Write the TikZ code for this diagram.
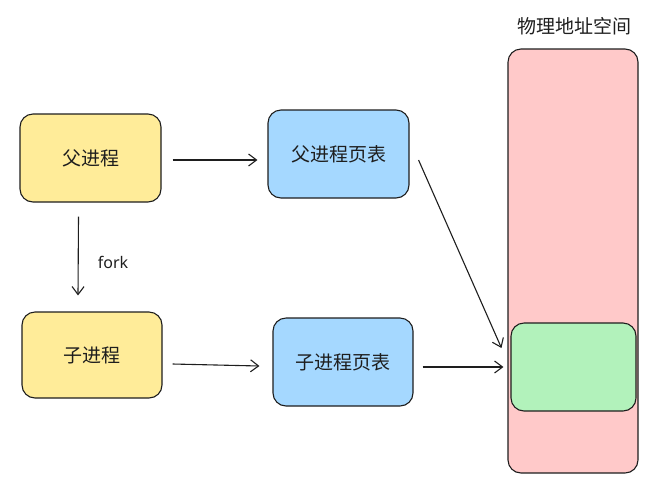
\documentclass[tikz,border=0pt]{standalone}
\usepackage{fontspec}
\setmainfont{Noto Sans CJK SC}
\newfontfamily\latinfont{Noto Sans}
\usetikzlibrary{arrows.meta,calc}
\definecolor{yel}{HTML}{FFEC99}
\definecolor{blu}{HTML}{A5D8FF}
\definecolor{pnk}{HTML}{FFC9C9}
\definecolor{grn}{HTML}{B2F2BB}
\definecolor{ink}{HTML}{1E1E1E}
\begin{document}
\begin{tikzpicture}[x=1pt,y=-1pt,
  box/.style={draw=ink,line width=1.1pt,rounded corners=13pt,font=\fontsize{19}{22}\selectfont,text=ink},
  arr/.style={draw=ink,line width=1.1pt,-{Straight Barb[length=8pt,width=12pt,line width=1.1pt]}}]
\useasboundingbox (0,0) rectangle (668,491);
\node[box,fill=yel,minimum width=141pt,minimum height=88pt] (p) at (90.5,158) {父进程};
\node[box,fill=yel,minimum width=140pt,minimum height=86pt] (c) at (92,355) {子进程};
\node[box,fill=blu,minimum width=141pt,minimum height=88pt] (pt) at (338.5,154) {父进程页表};
\node[box,fill=blu,minimum width=140pt,minimum height=88pt] (ct) at (343,362) {子进程页表};
\node[box,fill=pnk,minimum width=130pt,minimum height=424pt] (m) at (573,261) {};
\node[box,fill=grn,minimum width=125pt,minimum height=88pt] (g) at (573.5,367) {};
\node[font=\fontsize{19}{22}\selectfont,text=ink] (t) at (574,26) {物理地址空间};
\draw[arr] ([yshift=-2pt]p.east) ++(11,0) coordinate (a1s) -- ([xshift=-10pt,yshift=-6pt]pt.west);
\draw[arr] ([xshift=-12pt]p.south) ++(0,14) coordinate (a2s) -- ([xshift=-14pt,yshift=16pt]c.north);
\draw[arr] ([yshift=-9pt]c.east) ++(10,0) coordinate (a3s) -- ([xshift=-13pt,yshift=-4pt]ct.west);
\draw[arr] ([yshift=-6pt]pt.east) ++(9,0) coordinate (a4s) -- ([xshift=-9pt,yshift=19pt]g.west);
\draw[arr] ([yshift=-5pt]ct.east) ++(9,0) coordinate (a5s) -- ([xshift=-7pt]g.west);
\node[font=\latinfont\fontsize{16}{19}\selectfont,text=ink] (fk) at (113,262) {fork};
\end{tikzpicture}
\end{document}
